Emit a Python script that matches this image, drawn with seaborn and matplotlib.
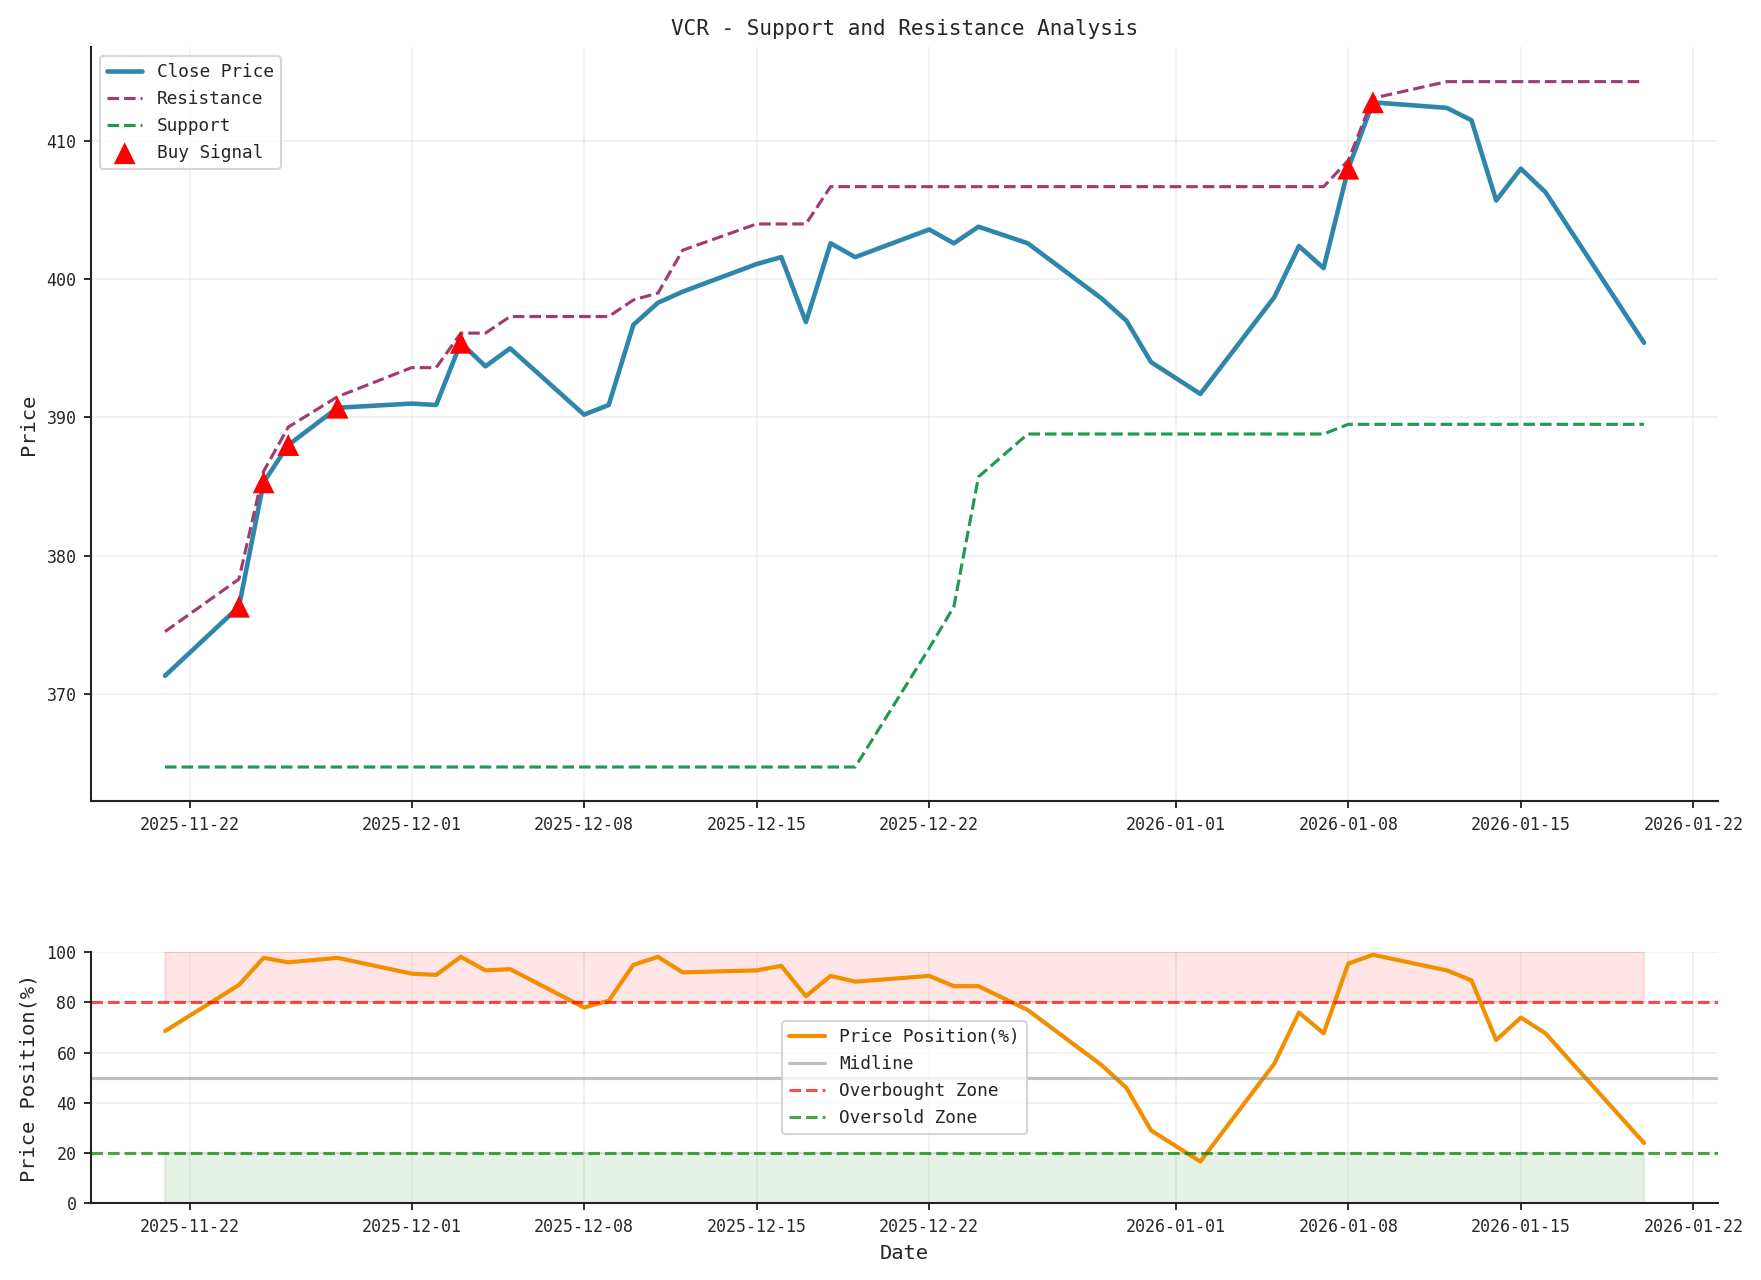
import matplotlib
matplotlib.use("Agg")
import matplotlib.pyplot as plt
import seaborn as sns
import pandas as pd

sns.set_style("ticks")
plt.rcParams['font.family'] = ['DejaVu Sans Mono', 'DejaVu Sans']
plt.rcParams['xtick.major.size'] = 3.5
plt.rcParams['ytick.major.size'] = 3.5
plt.rcParams['xtick.major.width'] = 0.9
plt.rcParams['ytick.major.width'] = 0.9
plt.rcParams['axes.edgecolor'] = '#222222'
plt.rcParams['axes.linewidth'] = 1.0

dates = ["2025-11-21", "2025-11-24", "2025-11-25", "2025-11-26", "2025-11-28",
         "2025-12-01", "2025-12-02", "2025-12-03", "2025-12-04", "2025-12-05",
         "2025-12-08", "2025-12-09", "2025-12-10", "2025-12-11", "2025-12-12",
         "2025-12-15", "2025-12-16", "2025-12-17", "2025-12-18", "2025-12-19",
         "2025-12-22", "2025-12-23", "2025-12-24", "2025-12-26", "2025-12-29",
         "2025-12-30", "2025-12-31", "2026-01-02", "2026-01-05", "2026-01-06",
         "2026-01-07", "2026-01-08", "2026-01-09", "2026-01-12", "2026-01-13",
         "2026-01-14", "2026-01-15", "2026-01-16", "2026-01-20"]

close = [371.3, 376.3, 385.3, 388.0, 390.7,
         391.0, 390.9, 395.4, 393.7, 395.0,
         390.2, 390.9, 396.7, 398.3, 399.1,
         401.1, 401.6, 396.9, 402.6, 401.6,
         403.6, 402.6, 403.8, 402.6, 398.6,
         397.0, 394.0, 391.7, 398.7, 402.4,
         400.8, 408.0, 412.8, 412.4, 411.5,
         405.7, 408.0, 406.3, 395.4]

resistance = [374.5, 378.3, 386.1, 389.3, 391.5,
              393.6, 393.6, 396.1, 396.1, 397.3,
              397.3, 397.3, 398.5, 399.0, 402.1,
              404.0, 404.0, 404.0, 406.7, 406.7,
              406.7, 406.7, 406.7, 406.7, 406.7,
              406.7, 406.7, 406.7, 406.7, 406.7,
              406.7, 408.6, 413.1, 414.3, 414.3,
              414.3, 414.3, 414.3, 414.3]

support = [364.7, 364.7, 364.7, 364.7, 364.7,
           364.7, 364.7, 364.7, 364.7, 364.7,
           364.7, 364.7, 364.7, 364.7, 364.7,
           364.7, 364.7, 364.7, 364.7, 364.7,
           373.3, 376.3, 385.7, 388.8, 388.8,
           388.8, 388.8, 388.8, 388.8, 388.8,
           388.8, 389.5, 389.5, 389.5, 389.5,
           389.5, 389.5, 389.5, 389.5]

position = [68.6, 87.0, 97.8, 96.0, 97.8,
            91.5, 91.0, 98.2, 92.8, 93.3,
            78.0, 80.7, 95.0, 98.2, 92.0,
            92.8, 94.6, 82.5, 90.6, 88.3,
            90.6, 86.5, 86.5, 77.0, 55.0,
            46.0, 29.0, 16.6, 55.6, 76.0,
            67.7, 95.5, 99.0, 92.8, 88.8,
            65.0, 74.0, 67.7, 24.0]

buy_dates = ["2025-11-24", "2025-11-25", "2025-11-26", "2025-11-28",
             "2025-12-03", "2026-01-08", "2026-01-09"]
buy_prices = [376.3, 385.3, 388.0, 390.7, 395.4, 408.0, 412.8]

df = pd.DataFrame({"Date": pd.to_datetime(dates), "Close": close,
                   "Resistance": resistance, "Support": support,
                   "Position": position})
buy = pd.DataFrame({"Date": pd.to_datetime(buy_dates), "Price": buy_prices})

fig = plt.figure(figsize=(17.61 / 1.5, 12.80 / 1.5), dpi=150)
ax1 = fig.add_axes([0.0517, 0.374, 0.9239, 0.589])
ax2 = fig.add_axes([0.0517, 0.060, 0.9239, 0.196])

tick_fs = 8.0
label_fs = 9.8
legend_fs = 8.5

sns.lineplot(data=df, x="Date", y="Close", ax=ax1, color="#2E86AB",
             linewidth=2.2, label="Close Price")
sns.lineplot(data=df, x="Date", y="Resistance", ax=ax1, color="#A23B72",
             linewidth=1.5, linestyle="--", label="Resistance")
sns.lineplot(data=df, x="Date", y="Support", ax=ax1, color="#1F9A50",
             linewidth=1.5, linestyle="--", label="Support")
sns.scatterplot(data=buy, x="Date", y="Price", ax=ax1, color="red", marker="^",
                s=110, edgecolor="none", zorder=5, label="Buy Signal")

ax1.set_title("VCR - Support and Resistance Analysis", fontsize=10.1)
ax1.set_ylabel("Price", fontsize=label_fs)
ax1.set_xlabel("")
ax1.grid(True, alpha=0.3)
ax1.legend(loc="upper left", fontsize=legend_fs)
ax1.tick_params(labelsize=tick_fs)
sns.despine(ax=ax1)

sns.lineplot(data=df, x="Date", y="Position", ax=ax2, color="#F18F01",
             linewidth=2, label="Price Position(%)")
ax2.axhline(50, color="gray", linestyle="-", alpha=0.5, linewidth=1.5, label="Midline")
ax2.axhline(80, color="red", linestyle="--", alpha=0.7, linewidth=1.5, label="Overbought Zone")
ax2.axhline(20, color="green", linestyle="--", alpha=0.7, linewidth=1.5, label="Oversold Zone")
ax2.fill_between(df["Date"], 80, 100, color="red", alpha=0.1)
ax2.fill_between(df["Date"], 0, 20, color="green", alpha=0.1)
ax2.set_ylim(0, 100)
ax2.set_ylabel("Price Position(%)", fontsize=label_fs)
ax2.set_xlabel("Date", fontsize=label_fs)
ax2.grid(True, alpha=0.3)
ax2.legend(loc="center", fontsize=legend_fs)
ax2.tick_params(labelsize=tick_fs)
sns.despine(ax=ax2)

ax2.set_xlim(ax1.get_xlim())

fig.savefig("out.png", dpi=150)
